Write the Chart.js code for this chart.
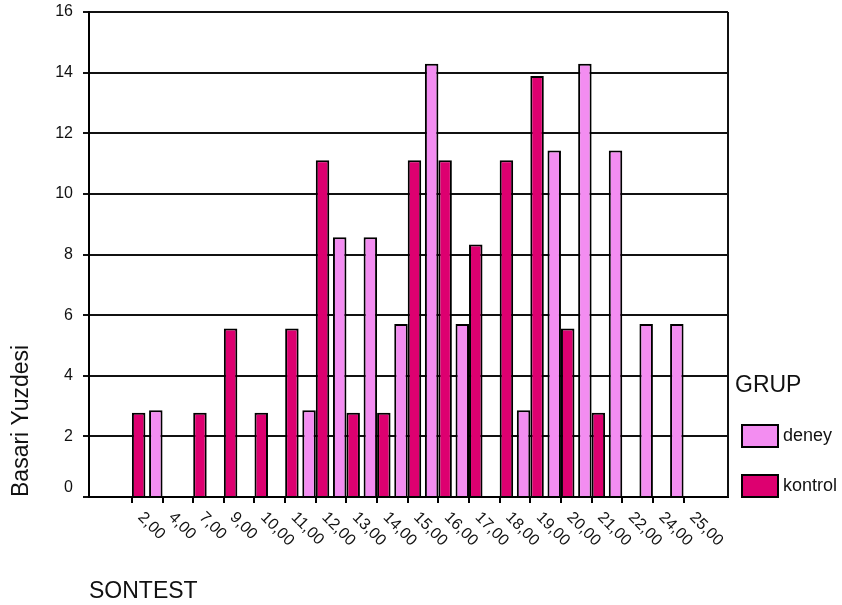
<!DOCTYPE html>
<html>
<head>
<meta charset="utf-8">
<script src="https://cdn.jsdelivr.net/npm/chart.js@4.4.1/dist/chart.umd.min.js"></script>
<style>
  html, body { margin: 0; padding: 0; background: #fff; }
  canvas { display: block; }
</style>
</head>
<body>
<canvas id="chart" width="842" height="605"></canvas>
<script>
// SONTEST score categories and the percentage of each group at that score
const categories = ["2,00", "4,00", "7,00", "9,00", "10,00", "11,00", "12,00", "13,00", "14,00", "15,00",
                    "16,00", "17,00", "18,00", "19,00", "20,00", "21,00", "22,00", "24,00", "25,00"];
const deneyValues = [null, 2.86, null, null, null, null, 2.86, 8.57, 8.57, 5.71,
                     14.29, 5.71, null, 2.86, 11.43, 14.29, 11.43, 5.71, 5.71];
const kontrolValues = [2.78, null, 2.78, 5.56, 2.78, 5.56, 11.11, 2.78, 2.78, 11.11,
                       11.11, 8.33, 11.11, 13.89, 5.56, 2.78, null, null, null];
const seriesNames = ["deney", "kontrol"];
const legendTitle = "GRUP";
const xTitle = "SONTEST";
const yTitle = "Basari Yuzdesi";
const yMin = 0, yMax = 16, yStep = 2;

const FONT = "'Liberation Sans', Arial, Helvetica, sans-serif";
const INK = "#111";
const DENEY_COLOR = "#F38DF1";
const KONTROL_COLOR = "#DD0070";

// Category slots run from -1.4 to 19.45 so the first and last scores sit in from the frame
const X_MIN = -1.4, X_MAX = 19.45;

const toPoints = values => values.map((v, i) => ({ x: i, y: v }));

// Category names under the axis, turned 45 degrees clockwise
const slantedCategoryLabels = {
  id: "slantedCategoryLabels",
  afterDraw(chart) {
    const ctx = chart.ctx;
    const xs = chart.scales.x;
    const area = chart.chartArea;
    ctx.save();
    ctx.font = "16px " + FONT;
    ctx.fillStyle = INK;
    ctx.textAlign = "left";
    ctx.textBaseline = "middle";
    categories.forEach((label, i) => {
      const px = xs.getPixelForValue(i);
      ctx.save();
      ctx.translate(px + 8.5, area.bottom + 18);
      ctx.rotate(Math.PI / 4);
      ctx.fillText(label, 0, 0);
      ctx.restore();
    });
    ctx.restore();
  }
};

// Right-hand edge of the plotting frame
const plotFrame = {
  id: "plotFrame",
  afterDatasetsDraw(chart) {
    const ctx = chart.ctx;
    const a = chart.chartArea;
    ctx.save();
    ctx.strokeStyle = "#111";
    ctx.lineWidth = 2;
    ctx.beginPath();
    ctx.moveTo(a.right, a.top);
    ctx.lineTo(a.right, a.bottom);
    ctx.stroke();
    ctx.restore();
  }
};

// Group legend to the right of the plot, anchored to its lower edge
const groupLegend = {
  id: "groupLegend",
  afterDraw(chart) {
    const ctx = chart.ctx;
    const a = chart.chartArea;
    const x0 = a.right + 7;
    ctx.save();
    ctx.fillStyle = INK;
    ctx.font = "23px " + FONT;
    ctx.textAlign = "left";
    ctx.textBaseline = "alphabetic";
    ctx.fillText(legendTitle, x0, a.bottom - 105.5);
    chart.data.datasets.forEach((ds, i) => {
      const top = a.bottom - 72 + i * 50;
      ctx.fillStyle = ds.backgroundColor;
      ctx.fillRect(x0 + 7, top, 36, 22);
      ctx.lineWidth = 2;
      ctx.strokeStyle = "#000";
      ctx.strokeRect(x0 + 7, top, 36, 22);
      ctx.fillStyle = INK;
      ctx.font = "18px " + FONT;
      ctx.textBaseline = "middle";
      ctx.fillText(ds.label, x0 + 48, top + 11.5);
    });
    ctx.restore();
  }
};

new Chart(document.getElementById("chart"), {
  type: "bar",
  data: {
    datasets: [
      { label: seriesNames[0], data: toPoints(deneyValues), backgroundColor: DENEY_COLOR,
        borderColor: "#000", borderWidth: 2 },
      { label: seriesNames[1], data: toPoints(kontrolValues), backgroundColor: KONTROL_COLOR,
        borderColor: "#000", borderWidth: 2 }
    ]
  },
  options: {
    responsive: false,
    animation: false,
    devicePixelRatio: 1,
    layout: { padding: { top: 12, right: 114, bottom: 0, left: 0 } },
    datasets: { bar: { categoryPercentage: 0.88, barPercentage: 1 } },
    plugins: { legend: { display: false }, tooltip: { enabled: false } },
    scales: {
      x: {
        type: "linear",
        bounds: "data",
        offset: false,
        min: X_MIN,
        max: X_MAX,
        afterDataLimits(scale) { scale.min = X_MIN; scale.max = X_MAX; },
        afterBuildTicks(scale) { scale.ticks = categories.map((_, i) => ({ value: i })); },
        afterFit(scale) { scale.height = 108; },
        ticks: { display: false },
        grid: { offset: false, drawOnChartArea: false, drawTicks: true, tickLength: 6,
                color: "#000", lineWidth: 2 },
        border: { display: true, color: "#000", width: 2 },
        title: { display: true, text: xTitle, align: "start", color: INK,
                 font: { family: FONT, size: 23 }, padding: { top: 0, bottom: 0 } }
      },
      y: {
        min: yMin,
        max: yMax,
        afterFit(scale) { scale.width = 89; scale.paddingTop = 0; scale.paddingBottom = 0; },
        ticks: {
          stepSize: yStep, padding: 10, color: INK,
          font: { family: FONT, size: 16 },
          callback: v => (v === 0 ? ["0", ""] : String(v))
        },
        grid: { color: "#111", lineWidth: 2, tickLength: 6 },
        border: { color: "#000", width: 2 },
        title: { display: true, text: yTitle, align: "start", color: INK,
                 font: { family: FONT, size: 23 }, padding: { top: 8, bottom: 0 } }
      }
    }
  },
  plugins: [slantedCategoryLabels, plotFrame, groupLegend]
});
</script>
</body>
</html>
